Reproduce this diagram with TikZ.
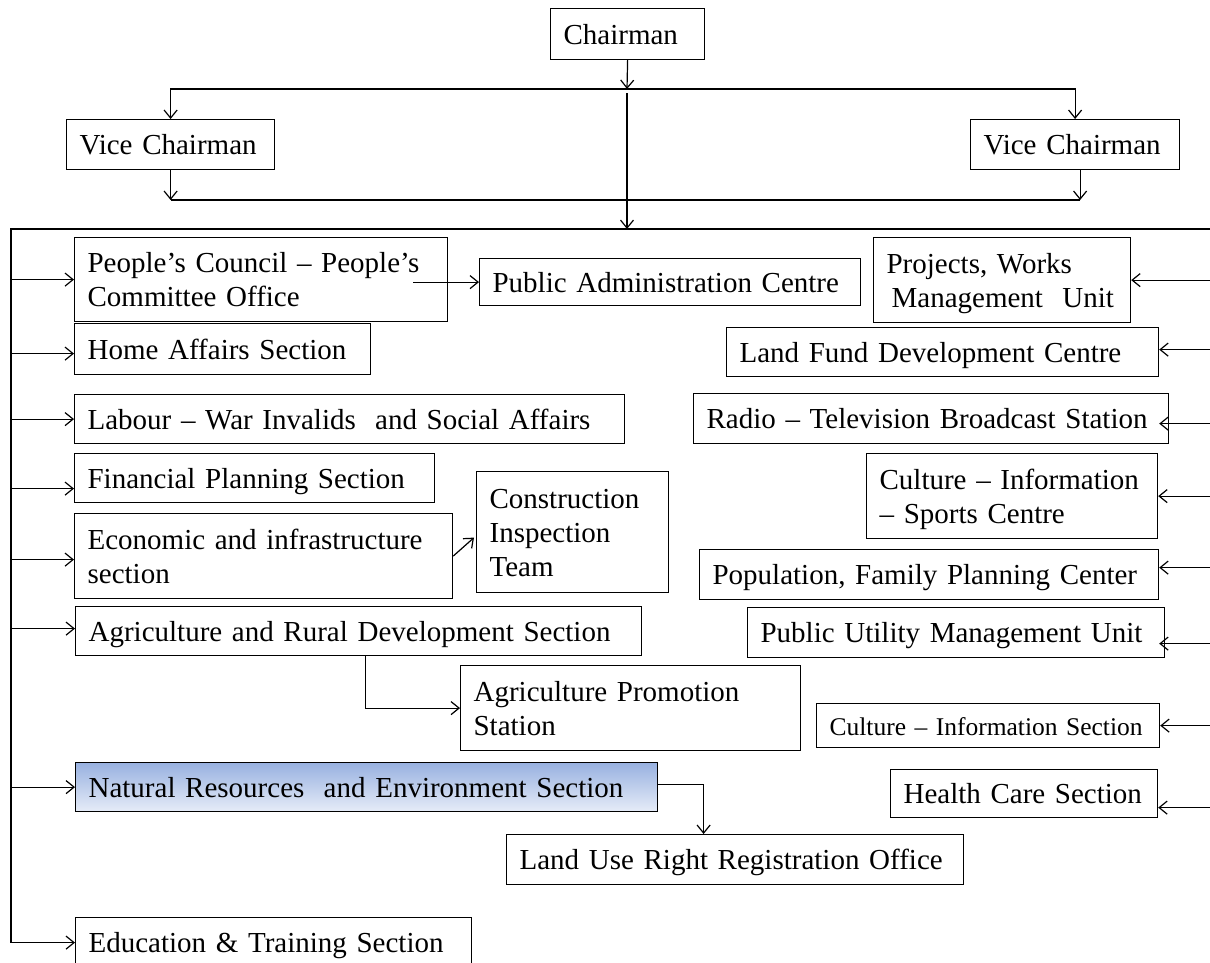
\documentclass[tikz,border=0pt]{standalone}
\usepackage{fontspec}
\setmainfont{Liberation Serif}
\usetikzlibrary{arrows.meta}
\definecolor{nrtop}{RGB}{152,177,224}
\definecolor{nrbot}{RGB}{230,236,248}
\newcommand\bxfont{\fontsize{29}{34}\selectfont}
\newcommand\bxsmall{\fontsize{25.5}{34}\selectfont}
\newcommand\bl[1]{\mbox{\rule[-7pt]{0pt}{34pt}#1}}
\begin{document}
\begin{tikzpicture}[x=1pt,y=-1pt,
  >={Straight Barb[length=8pt,width=13pt]},
  conn/.style={line width=1.2pt},
  box/.style={draw=black, line width=1.2pt, anchor=north west, inner xsep=13pt,
    inner ysep=0pt, align=left, font=\bxfont},
  ]
\useasboundingbox (0,0) rectangle (1210,962);
\fill[white] (0,0) rectangle (1210,962);

% nodes
\node[box, minimum width=154pt, minimum height=51pt, text width=128pt] (chair) at (550,8) {\bl{Chairman}};
\node[box, minimum width=208pt, minimum height=50pt, text width=182pt] (vcl) at (66,119) {\bl{Vice Chairman}};
\node[box, minimum width=209pt, minimum height=50pt, text width=183pt] (vcr) at (970,119) {\bl{Vice Chairman}};

\node[box, minimum width=373pt, minimum height=84pt, text width=347pt] (pc) at (74,237) {\bl{People’s Council – People’s}\\\bl{Committee Office}};
\node[box, minimum width=381pt, minimum height=47pt, text width=355pt] (pa) at (479,258) {\bl{Public Administration Centre}};
\node[box, minimum width=257pt, minimum height=85pt, text width=231pt] (proj) at (873,237) {\bl{Projects, Works}\\\bl{\hspace*{5pt}Management~ Unit}};

\node[box, minimum width=296pt, minimum height=51pt, text width=270pt] (home) at (74,323) {\bl{Home Affairs Section}};
\node[box, minimum width=432pt, minimum height=49pt, text width=406pt] (landf) at (726,327) {\bl{Land Fund Development Centre}};
\node[box, minimum width=550pt, minimum height=49pt, text width=524pt] (labour) at (74,394) {\bl{Labour – War Invalids~ and Social Affairs}};
\node[box, minimum width=475pt, minimum height=50pt, text width=449pt] (radio) at (693,393) {\bl{Radio – Television Broadcast Station}};
\node[box, minimum width=360pt, minimum height=49pt, text width=334pt] (fin) at (74,453) {\bl{Financial Planning Section}};
\node[box, minimum width=291pt, minimum height=85pt, text width=265pt] (cis) at (866,453) {\bl{Culture – Information}\\\bl{– Sports Centre}};
\node[box, minimum width=378pt, minimum height=85pt, text width=352pt] (econ) at (74,513) {\bl{Economic and infrastructure}\\\bl{section}};
\node[box, minimum width=192pt, minimum height=121pt, text width=166pt] (cons) at (476,471) {\bl{Construction}\\\bl{Inspection}\\\bl{Team}};
\node[box, minimum width=459pt, minimum height=50pt, text width=433pt] (pop) at (699,549) {\bl{Population, Family Planning Center}};
\node[box, minimum width=566pt, minimum height=49pt, text width=540pt] (agri) at (75,606) {\bl{Agriculture and Rural Development Section}};
\node[box, minimum width=417pt, minimum height=50pt, text width=391pt] (pu) at (747,607) {\bl{Public Utility Management Unit}};
\node[box, minimum width=340pt, minimum height=85pt, text width=314pt] (ap) at (460,665) {\bl{Agriculture Promotion}\\\bl{Station}};
\node[box, font=\bxsmall, minimum width=343pt, minimum height=44pt, text width=317pt] (cisec) at (816,703) {\bl{Culture – Information Section}};
\node[box, top color=nrtop, bottom color=nrbot, minimum width=582pt, minimum height=49pt, text width=556pt] (nr) at (75,762) {\bl{Natural Resources~ and Environment Section}};
\node[box, minimum width=267pt, minimum height=48pt, text width=241pt] (hc) at (890,769) {\bl{Health Care Section}};
\node[box, minimum width=457pt, minimum height=50pt, text width=431pt] (lu) at (506,834) {\bl{Land Use Right Registration Office}};
\node[box, minimum width=396pt, minimum height=50pt, text width=370pt] (edu) at (75,917) {\bl{Education \& Training Section}};

% helper coordinates
\coordinate (L) at (11,229);
\coordinate (R) at (1210,229);
\coordinate (hTop) at (627,89);
\coordinate (hBot) at (627,200);

% top part
\draw[conn,->] (chair.south) -- (hTop);
\draw[conn,<->] (vcl.north) |- (hTop) -| (vcr.north);
\draw[conn,->] ([yshift=-4pt]hTop) -- (hTop |- L);
\coordinate (vcrs) at ([xshift=5pt]vcr.south);
\draw[conn,->] (vcl.south) -- (vcl.south |- hBot);
\draw[conn,->] (vcrs) -- (vcrs |- hBot);
\draw[conn] (vcl.south |- hBot) -- (vcrs |- hBot);

% main bus
\draw[conn,->] (R) -- (L) -- (L |- edu.west) -- (edu.west);

% left branch arrows
\foreach \n/\s in {pc/0, home/-4.5, labour/0, fin/-10.5, econ/-3.5, agri/2.5, nr/0}{
  \coordinate (\n-in) at ([yshift=\s]\n.west);
  \draw[conn,->] (L |- \n-in) -- (\n-in);
}
% right branch arrows
\foreach \n/\dx/\dy in {proj/0/0, landf/0/2.5, radio/-10/-5, cis/0/0, pop/0/7, pu/-6/-11, cisec/0/0, hc/0/-14}{
  \coordinate (\n-in) at ([xshift=\dx,yshift=\dy]\n.east);
  \draw[conn,->] (R |- \n-in) -- (\n-in);
}

% sub-unit connectors
\coordinate (pcs) at ([xshift=-35pt]pc.east);
\draw[conn,->] (pcs |- pa.west) -- (pa.west);
\draw[conn,->] (econ.east) -- ([xshift=-2pt,yshift=-5.5pt]cons.west);
\draw[conn,->] ([xshift=7pt]agri.south) |- (ap.west);
\draw[conn,->] ([yshift=2.5pt]nr.east) -| ([xshift=-31.5pt]lu.north);
\end{tikzpicture}
\end{document}
